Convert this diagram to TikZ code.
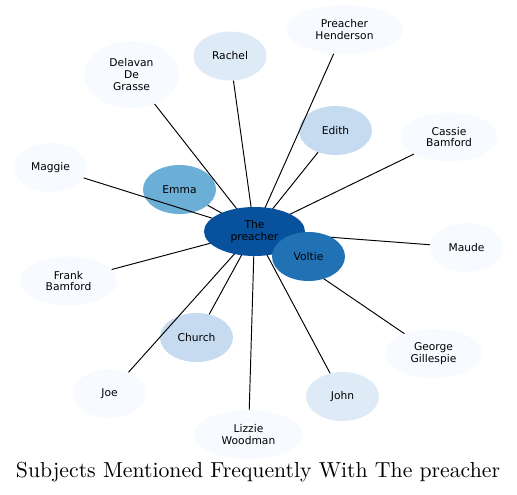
\documentclass[tikz,border=0pt]{standalone}
\usepackage{fontspec}
\setsansfont{DejaVu Sans}
\usetikzlibrary{shapes.geometric}
\definecolor{bA}{HTML}{08519C}
\definecolor{bB}{HTML}{2171B5}
\definecolor{bC}{HTML}{6BAED6}
\definecolor{bD}{HTML}{C6DBEF}
\definecolor{bE}{HTML}{DEEBF7}
\definecolor{bF}{HTML}{F7FBFF}
\pgfdeclarelayer{nodesbg}
\pgfdeclarelayer{edges}
\pgfsetlayers{nodesbg,edges,main}
\tikzset{
  ent/.style={ellipse, inner sep=0pt, align=center, text=black,
    font=\sffamily\fontsize{10.7}{11.8}\selectfont,
    minimum width=73pt, minimum height=49pt},
  wide/.style={minimum width=97pt},
  link/.style={draw=black, line width=0.95pt},
}
\begin{document}
\begin{tikzpicture}[x=1pt,y=-1pt]
\useasboundingbox (0,0) rectangle (517,495);
\begin{pgfonlayer}{nodesbg}
\node[ent, fill=bE] (rachel) at (230,56) {Rachel};
\node[ent, fill=bF, minimum width=95pt, minimum height=67pt] (delavan) at (131.5,74.5) {Delavan\\De\\Grasse};
\node[ent, fill=bF, minimum width=117pt] (henderson) at (344.5,29.5) {Preacher\\Henderson};
\node[ent, fill=bD] (edith) at (335.5,130.5) {Edith};
\node[ent, fill=bF, wide] (cassie) at (449,137) {Cassie\\Bamford};
\node[ent, fill=bF] (maggie) at (50.5,167.5) {Maggie};
\node[ent, fill=bC] (emma) at (179.5,189.5) {Emma};
\node[ent, fill=bF] (maude) at (466.5,247.5) {Maude};
\node[ent, fill=bF, wide] (frank) at (68.5,281) {Frank\\Bamford};
\node[ent, fill=bD] (church) at (196.5,337.5) {Church};
\node[ent, fill=bF, wide] (george) at (433.5,353.5) {George\\Gillespie};
\node[ent, fill=bF] (joe) at (109.5,393.5) {Joe};
\node[ent, fill=bE] (john) at (342.5,396.5) {John};
\node[ent, fill=bF, minimum width=109pt] (lizzie) at (248.5,434.5) {Lizzie\\Woodman};
\end{pgfonlayer}
\node[ent, fill=bA, minimum width=101pt] (p) at (254.5,231.5) {The\\preacher};
\node[ent, fill=bB] (voltie) at (308.5,256.5) {Voltie};
\begin{pgfonlayer}{edges}
\foreach \n in {rachel,delavan,henderson,edith,cassie,maggie,emma,maude,frank,church,george,joe,john,lizzie,voltie}
  \draw[link] (p.center) -- (\n);
\end{pgfonlayer}
\node[inner sep=0pt, text=black] (title) at (258,472) {\resizebox{484pt}{!}{Subjects Mentioned Frequently With The preacher}};
\end{tikzpicture}
\end{document}
